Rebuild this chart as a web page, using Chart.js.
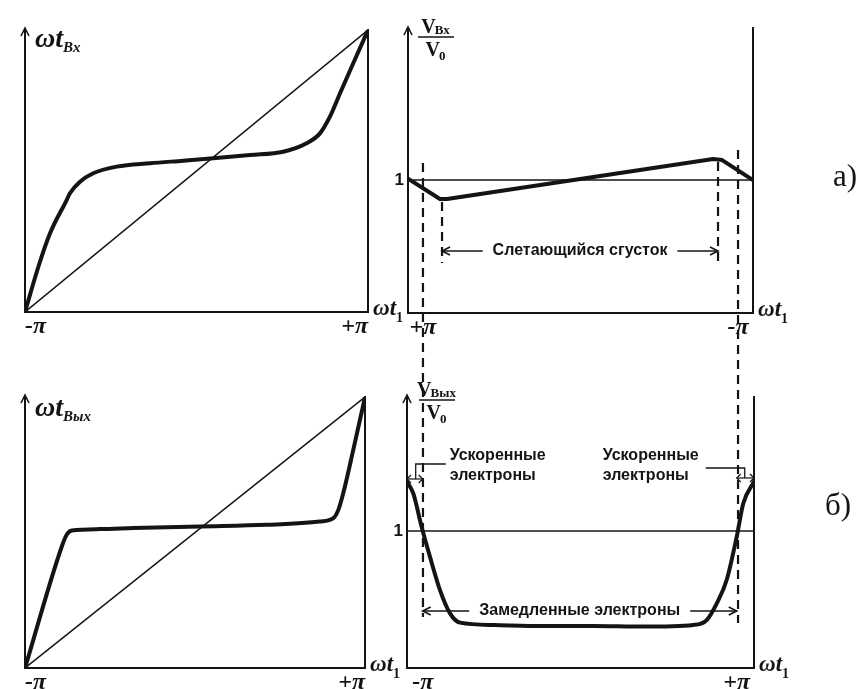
<!DOCTYPE html>
<html>
<head>
<meta charset="utf-8">
<script src="https://cdn.jsdelivr.net/npm/chart.js@4/dist/chart.umd.min.js"></script>
<style>
  body { margin: 0; background: #fff; }
  #wrap { position: relative; width: 861px; height: 689px; }
  #wrap canvas { position: absolute; left: 0; top: 0; }
</style>
</head>
<body>
<div id="wrap">
  <canvas id="tl" width="861" height="689"></canvas>
  <canvas id="tr" width="861" height="689"></canvas>
  <canvas id="bl" width="861" height="689"></canvas>
  <canvas id="br" width="861" height="689"></canvas>
</div>
<script>
// ---- данные (фаза в единицах π) ----
const xTicks = [-1, 1];
const xTickLabels = ['-π', '+π'];
const vTicks = [1];
const vTickLabels = ['1'];

// а) фаза входа в зазор от ωt1
const inX = [-1, -0.922, -0.854, -0.757, -0.738, -0.679, -0.602, -0.465, -0.271, -0.077, 0.098, 0.312, 0.506, 0.642, 0.720, 0.778, 0.837, 0.914, 1];
const inY = [-1, -0.679, -0.442, -0.206, -0.158, -0.076, -0.016, 0.031, 0.055, 0.073, 0.090, 0.113, 0.137, 0.197, 0.267, 0.385, 0.551, 0.764, 1];
const diagX = [-1, 1];
const diagY = [-1, 1];

// а) скорость на входе v/v0 (ось фазы перевёрнута)
const vInX = [1.095, 0.892, 0.847, -0.842, -0.899, -1.095];
const vInY = [1.01, 0.857, 0.857, 1.158, 1.150, 1.0];
const levelInX = [-1.095, 1.095];
const levelY = [1, 1];
const edgeX = [1, -1];            // длинные штриховые линии ±π
const edgeTop = [1.128, 1.226];
const edgeBottom = [-2.286, -2.331];
const bunchX = [0.879, -0.873];   // границы сгустка
const bunchTop = [0.835, 1.135];
const bunchBottom = [0.376, 0.376];
const bunchArrowY = 0.466;

// б) фаза выхода
const outX = [-1, -0.784, -0.755, -0.725, -0.559, -0.363, 0.029, 0.422, 0.735, 0.814, 0.843, 0.872, 0.931, 1];
const outY = [-1, -0.105, -0.017, 0.015, 0.025, 0.033, 0.045, 0.057, 0.081, 0.106, 0.167, 0.290, 0.610, 1];

// б) скорость на выходе
const vOutX = [-1.1, -1.060, -1.007, -0.954, -0.890, -0.826, -0.762, -0.550, -0.232, 0.087, 0.405, 0.724, 0.809, 0.873, 0.936, 1.000, 1.042, 1.11];
const vOutY = [1.360, 1.275, 1.031, 0.813, 0.569, 0.399, 0.331, 0.314, 0.307, 0.307, 0.302, 0.314, 0.350, 0.472, 0.642, 0.958, 1.202, 1.360];
const levelOutX = [-1.1, 1.11];
const slowArrowY = 0.416;

// ---- оформление ----
const INK = '#141414';
const SERIF = '"Liberation Serif", "Times New Roman", serif';
const SANS = '"Liberation Sans", Arial, sans-serif';
const W = 861, H = 689;
const XH = 34, YW = 22; // размеры полей подписей осей

const pts = (xs, ys) => xs.map((x, i) => ({ x, y: ys[i] }));
const thick = (xs, ys, smooth) => ({
  data: pts(xs, ys), borderColor: INK, borderWidth: 4, pointRadius: 0,
  cubicInterpolationMode: smooth ? 'monotone' : 'default', tension: 0,
  borderJoinStyle: 'round', borderCapStyle: 'round'
});
const thin = (xs, ys) => ({ data: pts(xs, ys), borderColor: INK, borderWidth: 1.5, pointRadius: 0 });
const dashed = (x, y1, y2) => ({
  data: pts([x, x], [y1, y2]), borderColor: INK, borderWidth: 2.2,
  borderDash: [9, 6], pointRadius: 0, clip: false
});

function xScale(min, max, reverse, align) {
  return {
    type: 'linear', min, max, reverse,
    afterFit: s => { s.height = XH; },
    afterBuildTicks: s => { s.ticks = xTicks.map(v => ({ value: v })); },
    grid: { display: false, drawTicks: false },
    border: { display: true, width: 2, color: INK },
    ticks: {
      color: INK, padding: 0, maxRotation: 0, autoSkip: false, align,
      font: { family: SERIF, size: 24, style: 'italic', weight: 'bold' },
      callback: v => xTickLabels[xTicks.indexOf(v)]
    }
  };
}
function yScale(min, max, ticks, labels) {
  return {
    type: 'linear', position: 'left', min, max,
    afterFit: s => { s.width = YW; },
    afterBuildTicks: s => { s.ticks = ticks.map(v => ({ value: v })); },
    grid: { display: false, drawTicks: false },
    border: { display: true, width: 2, color: INK },
    ticks: {
      display: ticks.length > 0, color: INK, padding: 4,
      font: { family: SANS, size: 17, weight: 'bold' },
      callback: v => labels[ticks.indexOf(v)]
    }
  };
}
const rightEdge = {
  type: 'linear', position: 'right', display: true,
  afterFit: s => { s.width = 0; },
  grid: { display: false, drawTicks: false },
  border: { display: true, width: 2, color: INK },
  ticks: { display: false }
};

function txt(ctx, s, x, y, font, align = 'left', base = 'alphabetic') {
  ctx.font = font; ctx.textAlign = align; ctx.textBaseline = base;
  ctx.fillText(s, x, y);
  return ctx.measureText(s).width;
}
function upArrow(ctx, x, y) {
  ctx.lineWidth = 1.6;
  ctx.beginPath(); ctx.moveTo(x - 4, y + 8); ctx.lineTo(x, y); ctx.lineTo(x + 4, y + 8); ctx.stroke();
}
function head(ctx, x, y, dir, len = 8) {
  ctx.beginPath(); ctx.moveTo(x - dir * len, y - 4); ctx.lineTo(x, y); ctx.lineTo(x - dir * len, y + 4); ctx.stroke();
}
function seg(ctx, x1, y1, x2, y2, w = 1.6) {
  ctx.lineWidth = w; ctx.beginPath(); ctx.moveTo(x1, y1); ctx.lineTo(x2, y2); ctx.stroke();
}
function omega(ctx, x, y, size, sub, subFont, subDrop) {
  const w = txt(ctx, 'ωt', x, y, `italic bold ${size}px ${SERIF}`);
  txt(ctx, sub, x + w, y + subDrop, subFont);
}
function fraction(ctx, cx, ly, sub) {
  const fV = `bold 20px ${SERIF}`, fS = `bold 13px ${SERIF}`;
  ctx.font = fV; const wV = ctx.measureText('V').width;
  ctx.font = fS; const wS = ctx.measureText(sub).width; const w0 = ctx.measureText('0').width;
  let x0 = cx - (wV + wS) / 2;
  txt(ctx, 'V', x0, ly - 4, fV);
  txt(ctx, sub, x0 + wV - 1, ly - 3, fS);
  seg(ctx, cx - 18, ly, cx + 18, ly, 1.5);
  x0 = cx - (wV + w0) / 2;
  txt(ctx, 'V', x0, ly + 19, fV);
  txt(ctx, '0', x0 + wV - 1, ly + 23, fS);
}
function labelArrow(ctx, x1, x2, y, text) {
  ctx.font = `bold 16px ${SANS}`;
  const tw = ctx.measureText(text).width, cx = (x1 + x2) / 2;
  txt(ctx, text, cx, y, `bold 16px ${SANS}`, 'center', 'middle');
  seg(ctx, x1, y, cx - tw / 2 - 10, y);
  seg(ctx, cx + tw / 2 + 10, y, x2, y);
  head(ctx, x1, y, -1); head(ctx, x2, y, 1);
}
function endLabel(ctx, a) {
  omega(ctx, a.right + 5, a.bottom + 3, 23, '1', `bold 14px ${SERIF}`, 7);
}

function panel(id, box, scales, datasets, draw) {
  return new Chart(document.getElementById(id), {
    type: 'line',
    data: { datasets },
    options: {
      responsive: false, animation: false, events: [], devicePixelRatio: 1,
      layout: { autoPadding: false, padding: { left: box.l - YW, top: box.t, right: W - box.r, bottom: H - box.b - XH } },
      plugins: { legend: { display: false }, tooltip: { enabled: false } },
      scales
    },
    plugins: [{
      id: 'decor',
      afterDraw: c => {
        const ctx = c.ctx; ctx.save();
        ctx.fillStyle = INK; ctx.strokeStyle = INK;
        draw(c, ctx, c.chartArea);
        ctx.restore();
      }
    }]
  });
}

// а) слева
panel('tl', { l: 25, t: 30, r: 368, b: 312 },
  { x: xScale(-1, 1, false, 'inner'), y: yScale(-1, 1, [], []), yR: rightEdge },
  [thick(inX, inY, true), thin(diagX, diagY)],
  (c, ctx, a) => {
    upArrow(ctx, a.left, a.top - 2);
    omega(ctx, a.left + 10, a.top + 17, 28, 'Bx', `italic bold 15px ${SERIF}`, 5);
    endLabel(ctx, a);
  });

// а) справа
panel('tr', { l: 408, t: 28, r: 753, b: 313 },
  { x: xScale(-1.095, 1.095, true, 'center'), y: yScale(0, 2.143, vTicks, vTickLabels), yR: rightEdge },
  [thick(vInX, vInY, false), thin(levelInX, levelY),
   dashed(edgeX[0], edgeTop[0], edgeBottom[0]), dashed(edgeX[1], edgeTop[1], edgeBottom[1]),
   dashed(bunchX[0], bunchTop[0], bunchBottom[0]), dashed(bunchX[1], bunchTop[1], bunchBottom[1])],
  (c, ctx, a) => {
    upArrow(ctx, a.left, a.top - 1);
    fraction(ctx, a.left + 28, a.top + 9, 'Bx');
    endLabel(ctx, a);
    const sx = c.scales.x, sy = c.scales.y;
    labelArrow(ctx, sx.getPixelForValue(bunchX[0]), sx.getPixelForValue(bunchX[1]),
      sy.getPixelForValue(bunchArrowY), 'Слетающийся сгусток');
    txt(ctx, 'а)', 833, 178, `31px ${SERIF}`, 'left', 'middle');
  });

// б) слева
panel('bl', { l: 25, t: 397, r: 365, b: 668 },
  { x: xScale(-1, 1, false, 'inner'), y: yScale(-1, 1, [], []), yR: rightEdge },
  [thick(outX, outY, true), thin(diagX, diagY)],
  (c, ctx, a) => {
    upArrow(ctx, a.left, a.top - 2);
    omega(ctx, a.left + 10, a.top + 19, 28, 'Вых', `italic bold 15px ${SERIF}`, 5);
    endLabel(ctx, a);
  });

// б) справа
panel('br', { l: 407, t: 397, r: 754, b: 668 },
  { x: xScale(-1.1, 1.11, false, 'center'), y: yScale(0, 1.978, vTicks, vTickLabels), yR: rightEdge },
  [thick(vOutX, vOutY, true), thin(levelOutX, levelY)],
  (c, ctx, a) => {
    upArrow(ctx, a.left, a.top - 2);
    fraction(ctx, a.left + 30, a.top + 3, 'Вых');
    endLabel(ctx, a);
    const sx = c.scales.x, sy = c.scales.y;
    const xl = sx.getPixelForValue(-1), xr = sx.getPixelForValue(1);
    labelArrow(ctx, xl, xr, sy.getPixelForValue(slowArrowY), 'Замедленные электроны');
    // ускоренные электроны слева
    const f = `bold 16px ${SANS}`;
    txt(ctx, 'Ускоренные', xl + 27, a.top + 59, f, 'left', 'middle');
    txt(ctx, 'электроны', xl + 27, a.top + 79, f, 'left', 'middle');
    ctx.lineWidth = 1.3;
    ctx.beginPath(); ctx.moveTo(xl + 23, a.top + 67); ctx.lineTo(xl - 7, a.top + 67); ctx.lineTo(xl - 7, a.top + 82); ctx.stroke();
    seg(ctx, a.left, a.top + 82, xl, a.top + 82, 1.2);
    head(ctx, a.left, a.top + 82, -1, 4); head(ctx, xl, a.top + 82, 1, 4);
    // ускоренные электроны справа
    txt(ctx, 'Ускоренные', xr - 134, a.top + 59, f, 'left', 'middle');
    txt(ctx, 'электроны', xr - 134, a.top + 79, f, 'left', 'middle');
    ctx.lineWidth = 1.3;
    ctx.beginPath(); ctx.moveTo(xr - 31, a.top + 71); ctx.lineTo(xr + 8, a.top + 71); ctx.lineTo(xr + 8, a.top + 81); ctx.stroke();
    seg(ctx, xr, a.top + 81, a.right, a.top + 81, 1.2);
    head(ctx, xr, a.top + 81, -1, 4); head(ctx, a.right, a.top + 81, 1, 4);
    txt(ctx, 'б)', 825, 507, `31px ${SERIF}`, 'left', 'middle');
  });
</script>
</body>
</html>
